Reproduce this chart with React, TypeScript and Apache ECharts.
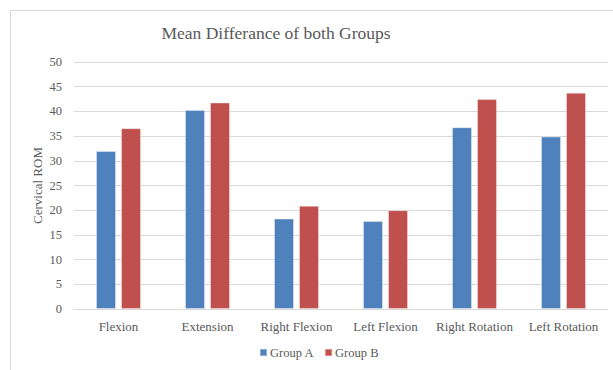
import React, { useEffect, useRef } from "react";
import * as echarts from "echarts";

const categories = ["Flexion", "Extension", "Right Flexion", "Left Flexion", "Right Rotation", "Left Rotation"];
const groupA = [32.0, 40.3, 18.3, 17.8, 36.8, 34.9];
const groupB = [36.6, 41.8, 20.9, 20.0, 42.5, 43.8];
const yTicks = { min: 0, max: 50, interval: 5 };

const FONT = "'Liberation Serif', 'DejaVu Serif', serif";
const TEXT = "#595959";
const GRID = "#d9d9d9";

export default function App() {
  const ref = useRef<HTMLDivElement>(null);

  useEffect(() => {
    if (!ref.current) return;
    const chart = echarts.init(ref.current, null, { renderer: "svg" });
    chart.setOption({
      animation: false,
      backgroundColor: "#ffffff",
      textStyle: { fontFamily: FONT, color: TEXT },
      graphic: [
        {
          type: "rect",
          shape: { x: 10.5, y: 10.5, width: 700, height: 400 },
          style: { fill: "none", stroke: GRID, lineWidth: 1 },
          silent: true,
        },
      ],
      title: {
        text: "Mean Differance of both Groups",
        left: 271,
        top: 19,
        textAlign: "center",
        textStyle: { fontFamily: FONT, fontSize: 17.5, fontWeight: "normal", color: TEXT },
      },
      legend: {
        data: ["Group A", "Group B"],
        left: 254,
        bottom: 6,
        itemWidth: 7,
        itemHeight: 7,
        itemGap: 10,
        icon: "rect",
        textStyle: { fontFamily: FONT, fontSize: 12.5, color: TEXT, padding: [0, 0, 0, -2] },
      },
      grid: { left: 74, right: 5, top: 62, bottom: 61, containLabel: false },
      xAxis: {
        type: "category",
        data: categories,
        axisLine: { lineStyle: { color: GRID, width: 1 } },
        axisTick: { show: false },
        axisLabel: { fontFamily: FONT, fontSize: 13, color: TEXT, margin: 11, interval: 0 },
      },
      yAxis: {
        type: "value",
        min: yTicks.min,
        max: yTicks.max,
        interval: yTicks.interval,
        name: "Cervical ROM",
        nameLocation: "middle",
        nameGap: 30,
        nameMoveOverlap: false,
        nameTextStyle: { fontFamily: FONT, fontSize: 13, color: TEXT },
        axisLine: { show: false },
        axisTick: { show: false },
        axisLabel: { fontFamily: FONT, fontSize: 12.5, color: TEXT, margin: 12 },
        splitLine: { lineStyle: { color: GRID, width: 1 } },
      },
      series: [
        {
          name: "Group A",
          type: "bar",
          data: groupA,
          barWidth: 20,
          barGap: "25%",
          itemStyle: { color: "#4f81bd", borderColor: "rgba(255,255,255,0.35)", borderWidth: 1 },
        },
        {
          name: "Group B",
          type: "bar",
          data: groupB,
          barWidth: 20,
          barGap: "25%",
          itemStyle: { color: "#c0504d", borderColor: "rgba(255,255,255,0.35)", borderWidth: 1 },
        },
      ],
    });
    return () => chart.dispose();
  }, []);

  return (
    <div
      ref={ref}
      style={{ position: "fixed", left: 0, top: 0, width: 613, height: 370, background: "#fff" }}
    />
  );
}
